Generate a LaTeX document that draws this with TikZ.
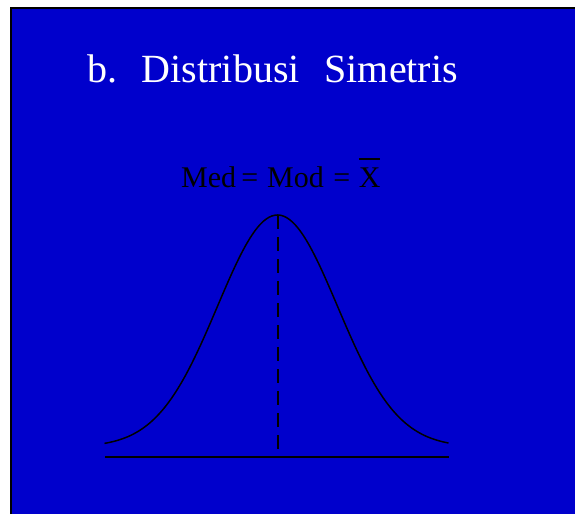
\documentclass[tikz,border=0pt]{standalone}
\usepackage{fontspec}
\setmainfont{Liberation Serif}
\usepackage{tikz}
\usetikzlibrary{calc,positioning}
\definecolor{slideblue}{RGB}{0,0,204}
\newcommand{\barX}{\rlap{\rule[0.9em]{0.72em}{0.065em}}X}
\tikzset{
  slide/.style   = {fill=slideblue},
  frame/.style   = {line width=2pt, black},
  heading/.style = {text=white, inner sep=0pt, anchor=base west,
                    font=\fontsize{40}{48}\selectfont},
  formula/.style = {text=black, inner sep=0pt, anchor=base west,
                    font=\fontsize{30}{36}\selectfont},
  curve/.style   = {line width=1.5pt, black},
  axisline/.style= {line width=1.6pt, black},
  median/.style  = {line width=1.6pt, black, dash pattern=on 14pt off 8pt},
}

\begin{document}
\begin{tikzpicture}[x=1pt,y=-1pt]
  \useasboundingbox (0,0) rectangle (575,514);
  \fill[slide] (11,8) rectangle (575,514);
  \draw[frame] (11,514) -- (11,8) -- (575,8);

  \node[heading] (title) at (87,82)
    {b.\hspace{0.62em}Distribusi\hspace{0.62em}Simetris};
  \node[formula] (eq) at (181,187)
    {Med\hspace{0.17em}=\hspace{0.3em}Mod\hspace{0.32em}=\hspace{0.28em}\barX};

  \coordinate (axis-l) at (105,457);
  \coordinate (axis-r) at (449,457);
  \coordinate (peak) at (278,215);
  \coordinate (foot) at (278,457);

  \draw[axisline] (axis-l) -- (axis-r);
  \draw[curve] plot[domain=-173:171, samples=120, smooth]
    ({277.5+\x}, {447-232*exp(-0.5*(\x/60)^2)});
  \draw[median] (peak) -- (foot);
\end{tikzpicture}
\end{document}
